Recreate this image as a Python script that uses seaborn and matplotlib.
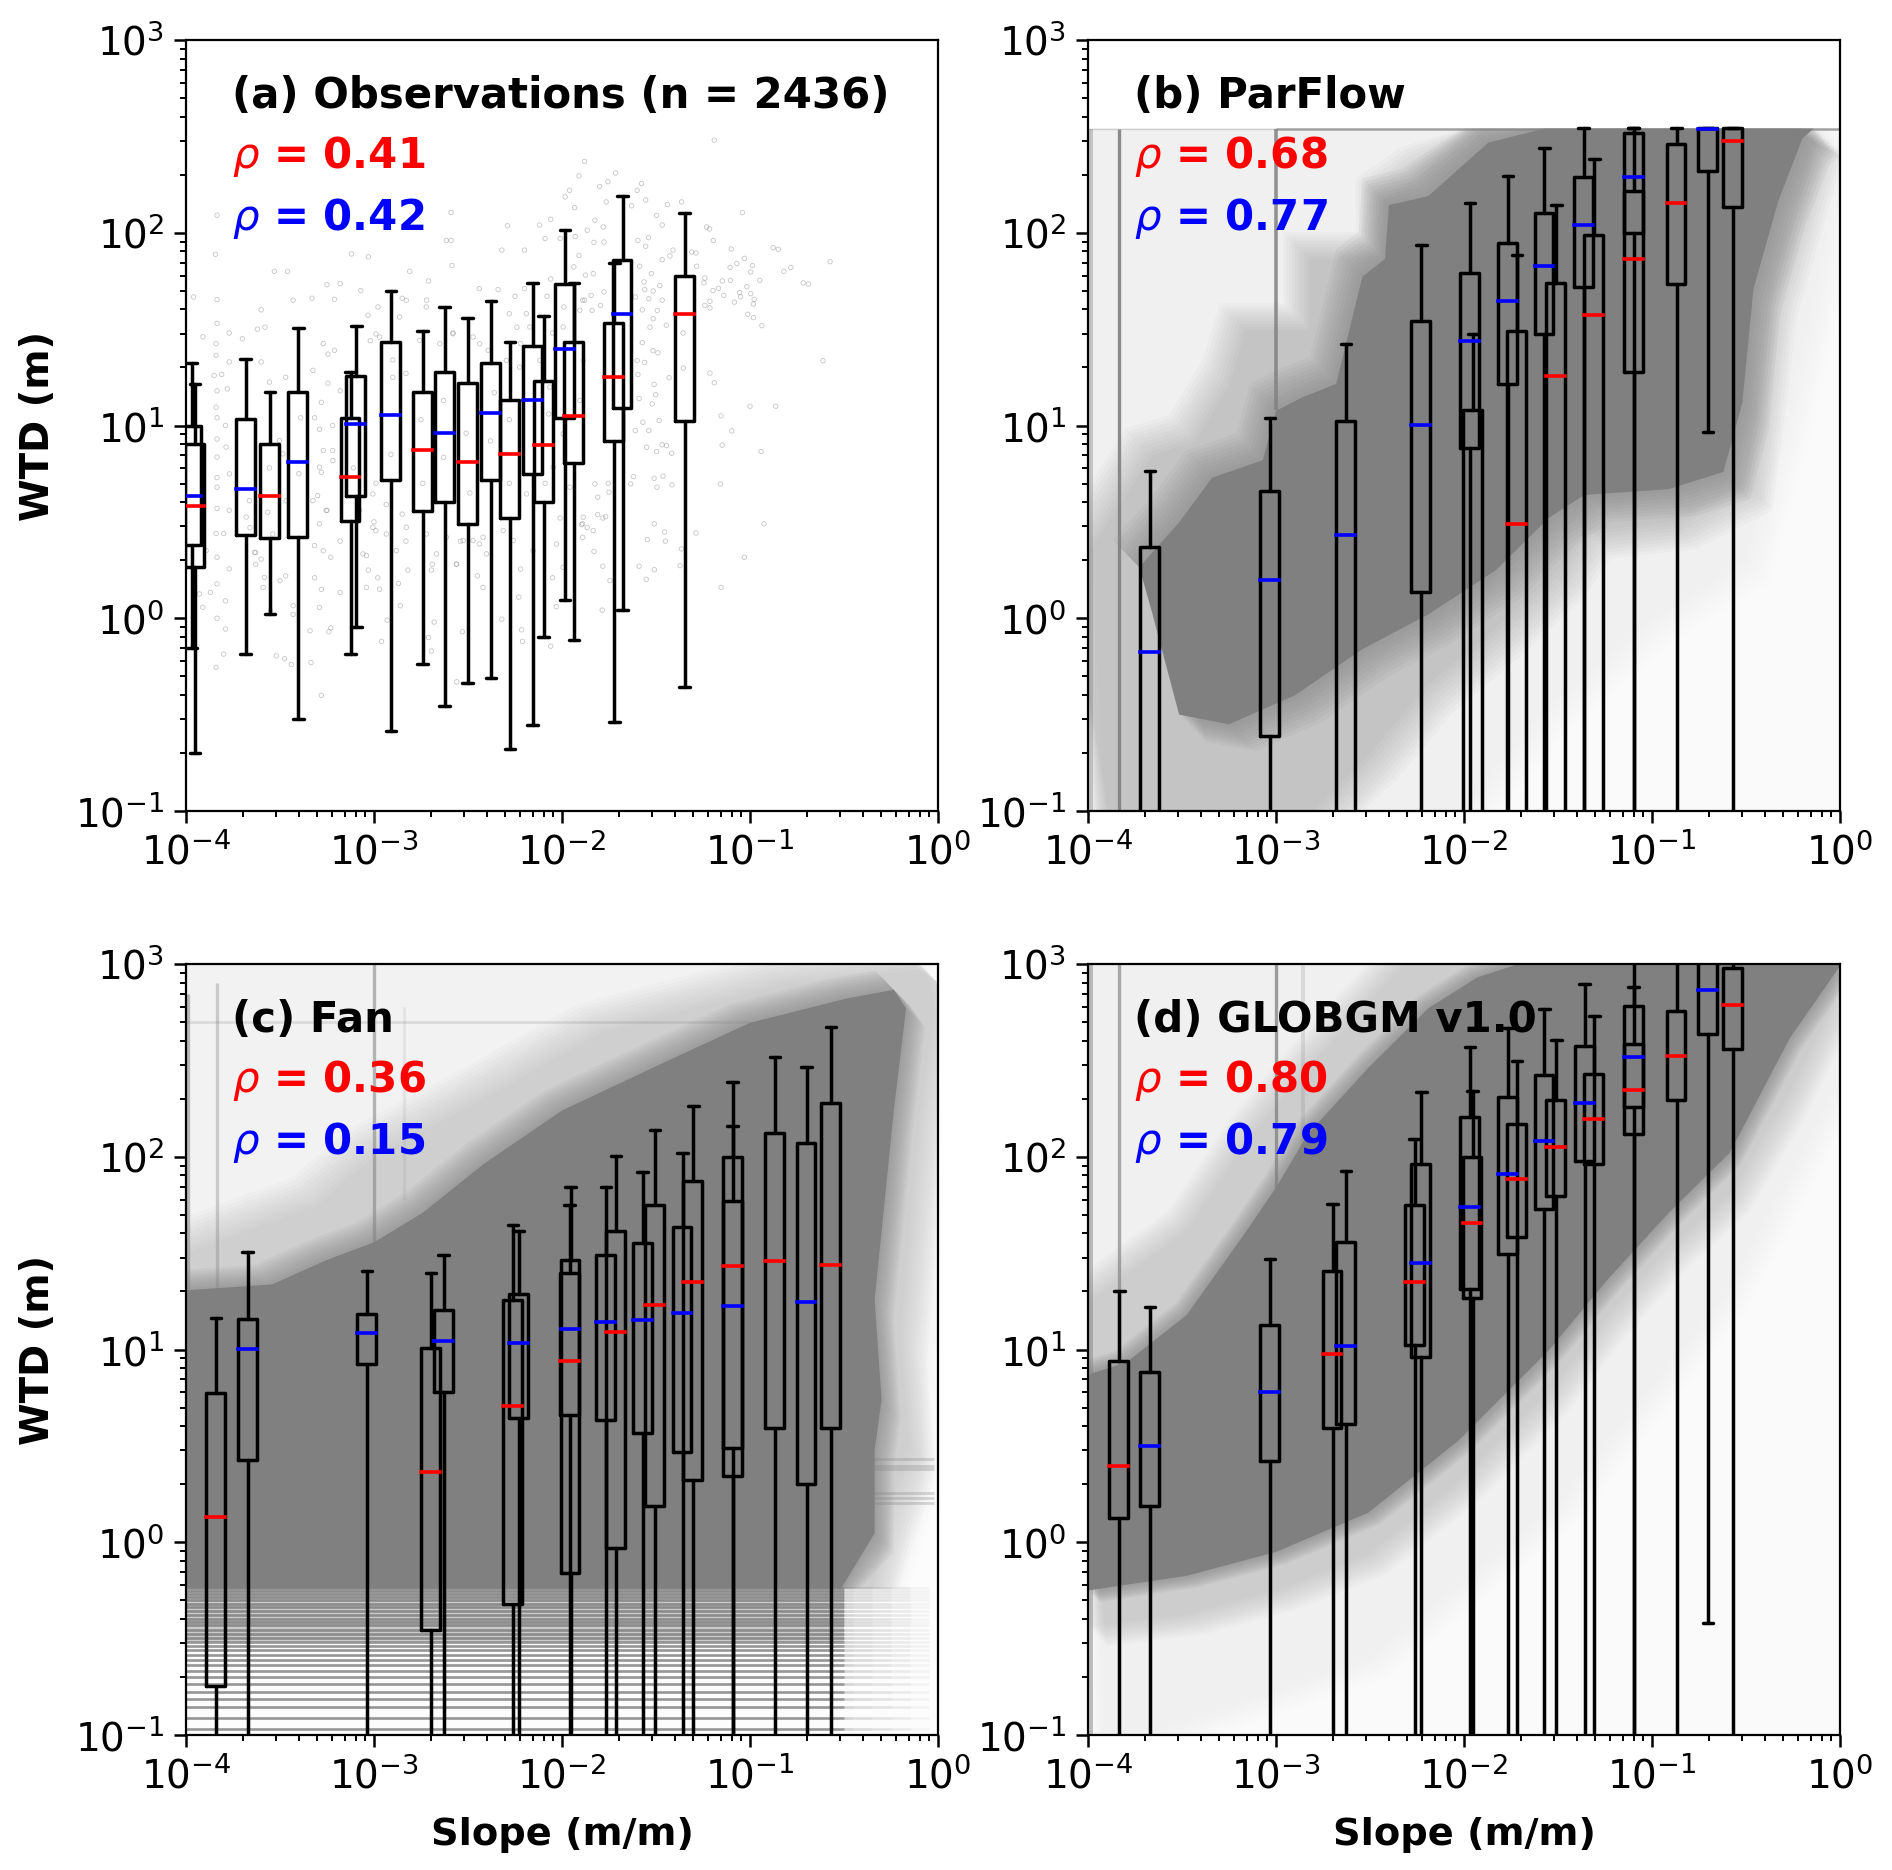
import numpy as np
import matplotlib
matplotlib.use("Agg")
import matplotlib.pyplot as plt
import seaborn as sns

# box rows: slope, whisker high, q3, median, q1, whisker low
off_low = 0.05
off_high = 2000

a_blue = [(1.08e-4, 21, 10, 4.3, 2.4, 0.7), (2.08e-4, 22, 10.8, 4.7, 2.7, 0.65),
          (3.96e-4, 32, 15, 6.5, 2.65, 0.3), (8.06e-4, 33, 18, 10.2, 4.3, 0.9),
          (1.236e-3, 50, 27, 11.3, 5.2, 0.26), (2.38e-3, 41, 19, 9.1, 4, 0.35),
          (4.2e-3, 44, 21, 11.6, 5.2, 0.49), (7.0e-3, 55, 26, 13.5, 5.6, 0.28),
          (1.04e-2, 103, 54, 25, 10.9, 1.25), (2.1e-2, 155, 72, 38, 12.3, 1.1)]
a_red = [(1.12e-4, 16.5, 8, 3.8, 1.85, 0.2), (2.8e-4, 15, 8, 4.3, 2.6, 1.05),
         (7.5e-4, 19, 11, 5.4, 3.2, 0.65), (1.82e-3, 31, 15, 7.5, 3.6, 0.58),
         (3.15e-3, 36, 16.7, 6.5, 3.1, 0.46), (5.3e-3, 27, 13.6, 7.1, 3.3, 0.21),
         (8.0e-3, 37, 17, 7.9, 4, 0.8), (1.16e-2, 55, 27, 11.2, 6.4, 0.77),
         (1.9e-2, 70, 34, 17.8, 8.3, 0.29), (4.5e-2, 127, 60, 38, 10.5, 0.44)]

b_blue = [(2.14e-4, 5.8, 2.35, 0.67, off_low, off_low), (9.3e-4, 11, 4.6, 1.57, 0.245, off_low),
          (2.36e-3, 26.5, 10.6, 2.7, off_low, off_low), (5.94e-3, 86, 35, 10.1, 1.37, off_low),
          (1.08e-2, 143, 62, 27.3, 7.6, off_low), (1.72e-2, 196, 88, 44, 16.5, off_low),
          (2.68e-2, 275, 127, 67, 30, off_low), (4.33e-2, 350, 195, 110, 52, off_low),
          (8.0e-2, 350, 330, 194, 100, off_low), (0.199, 350, 350, 345, 210, 9.3)]
b_red = [(1.12e-2, 30, 12, off_low, off_low, off_low), (1.92e-2, 77, 31, 3.1, off_low, off_low),
         (3.1e-2, 140, 55, 18, off_low, off_low), (4.94e-2, 240, 97, 37.5, off_low, off_low),
         (8.0e-2, 350, 165, 73, 19, off_low), (0.135, 350, 287, 143, 54, off_low),
         (0.269, 350, 350, 300, 136, off_low)]

c_blue = [(2.13e-4, 32, 14.4, 10.1, 2.66, off_low), (9.2e-4, 25.4, 15.2, 12.2, 8.4, off_low),
          (2.35e-3, 31, 16.1, 11.1, 6, off_low), (5.88e-3, 41, 19.3, 10.8, 4.4, off_low),
          (1.11e-2, 70, 29, 12.8, 0.69, off_low), (1.72e-2, 70, 31, 13.9, 4.3, off_low),
          (2.69e-2, 83, 35.5, 14.3, 3.7, off_low), (4.38e-2, 105, 43, 15.5, 2.93, off_low),
          (8.1e-2, 145, 59, 16.9, 3.1, off_low), (0.2, 292, 118, 17.6, 2.0, off_low)]
c_red = [(1.45e-4, 14.6, 5.96, 1.36, 0.18, off_low), (2.01e-3, 25, 10.2, 2.32, 0.35, off_low),
         (5.5e-3, 44, 18, 5.1, 0.48, off_low), (1.10e-2, 56, 25, 8.7, 4.55, off_low),
         (1.94e-2, 101, 41, 12.3, 0.93, off_low), (3.13e-2, 138, 56, 17, 1.54, off_low),
         (5.0e-2, 183, 74.5, 22.3, 2.1, off_low), (8.1e-2, 243, 100, 27, 2.2, off_low),
         (0.136, 329, 133, 28.7, 3.9, off_low), (0.27, 470, 190, 27.4, 3.9, off_low)]

d_blue = [(2.14e-4, 16.7, 7.6, 3.15, 1.55, off_low), (9.3e-4, 29.6, 13.4, 6, 2.65, off_low),
          (2.36e-3, 84, 36, 10.4, 4.1, off_low), (5.94e-3, 217, 92, 28, 9.1, off_low),
          (1.08e-2, 371, 160, 54.6, 20.7, off_low), (1.72e-2, 467, 205, 81.5, 31.4, off_low),
          (2.68e-2, 584, 265, 120, 53.5, off_low), (4.4e-2, 790, 374, 189, 95, off_low),
          (8.0e-2, off_high, 609, 331, 181, off_low), (0.199, off_high, 1100, 730, 435, 0.38)]
d_red = [(1.47e-4, 20, 8.7, 2.5, 1.33, off_low), (2.0e-3, 57, 25.5, 9.5, 3.9, off_low),
         (5.48e-3, 123, 56, 22.4, 10.6, off_low), (1.11e-2, 219, 100, 45.5, 18.4, off_low),
         (1.92e-2, 313, 148, 76.5, 38.5, off_low), (3.1e-2, 405, 197, 112, 62.5, off_low),
         (4.94e-2, 536, 268, 157, 92, off_low), (8.0e-2, 761, 385, 222, 131, off_low),
         (0.135, off_high, 571, 333, 196, off_low), (0.269, off_high, 950, 615, 363, off_low)]

obs_log_slope = [
    -3.835, -3.844, -3.53, -3.46, -3.6, -3.835, -3.96, -3.43, -3.33, -3.25, -3.18, -3.21, -3.07, -3.12, -3.03,
    -2.81, -2.71, -2.585, -2.615, -2.59, -2.59, -2.32, -2.29, -2.2, -2.12, -2.09, -2.06, -2.01, -1.93,
    -3.835, -3.77, -3.91, -3.84, -3.84, -3.77, -3.85, -3.81, -3.835, -3.78, -3.84, -3.835, -3.835, -3.79,
    -3.835, -3.835, -3.835, -3.835, -3.84, -3.77, -3.8, -3.835, -3.77, -3.835, -3.87, -3.79, -3.835, -3.79,
    -3.8, -3.84, -3.62, -3.58, -3.7, -3.6, -3.556, -3.47, -3.325, -3.27, -3.245, -3.21, -3.245, -3.18,
    -3.28, -3.22, -3.316, -3.29, -3.27, -3.22, -3.28, -3.3, -3.25, -3.29, -3.18, -3.316, -3.27, -3.23,
    -3.316, -3.28, -3.18, -3.29, -3.23, -3.24, -3.34, -3.335, -3.476, -3.52, -3.44, -3.28, -3.6, -3.63,
    -3.59, -3.5, -3.47, -3.43, -3.63, -3.43, -3.55, -3.04, -3.03, -2.97, -3.04, -2.93, -2.98, -2.87,
    -2.86, -2.96, -2.99, -3.0, -2.935, -2.99, -2.85, -2.83, -2.82, -2.69, -2.695, -2.68, -2.71, -2.695,
    -2.56, -2.54, -2.53, -2.56, -2.44, -2.45, -2.42, -2.32, -2.22, -2.23, -2.215, -2.21, -2.06, -2.03,
    -2.05, -2.03, -1.89, -1.89, -2.01, -3.02, -2.99, -2.85, -2.72, -2.65, -2.58, -2.44, -2.34, -2.25,
    -2.2, -2.06, -2.24, -2.28, -2.19, -2.08, -1.89, -2.9, -2.83, -2.22, -2.05, -2.9, -2.91, -2.75, -2.74,
    -2.63, -2.63, -2.51, -2.49, -2.38, -2.36, -2.28, -2.28, -2.09, -2.07, -1.99, -3.68, -3.66, -3.565,
    -3.556, -3.4, -3.39, -3.11,
    -1.19, -1.88, -1.91, -1.715, -1.756, -1.8, -1.96, -1.577, -1.6, -1.555, -1.765, -1.63, -1.44, -1.364,
    -1.04, -1.497, -1.467, -1.23, -1.215, -1.195, -1.54, -1.596, -1.555, -1.41, -1.426, -1.467, -1.31,
    -1.287, -1.1, -0.877, -0.85, -0.574, -1.03, -1.07, -1.106, -0.987, -0.996, -0.783, -0.82, -1.284,
    -1.24, -1.245, -1.147, -1.104, -0.948, -0.717, -0.689, -1.017, -1.197, -1.168, -1.055, -0.996, -1.14,
    -1.05, -0.978, -1.213, -1.24, -1.083, -0.982, -1.213, -1.012, -0.982, -0.937, -1.356, -0.612, -1.516,
    -1.49, -1.56, -1.355, -1.213, -1.19, -1.43, -1.0, -0.863, -1.154, -1.097, -1.148, -0.941, -1.417,
    -1.158, -1.415, -0.925, -1.287, -1.03, -1.154, -1.372, -1.365, -1.45, -1.454, -1.509, -1.546, -1.552,
    -1.509, -1.59, -1.783, -1.745, -1.786, -1.83, -1.834, -1.866, -1.896, -1.81, -1.783, -1.768, -1.81,
    -1.75, -1.825, -1.754, -1.635, -1.62, -1.51, -1.463, -1.495, -1.55, -1.497, -1.444, -1.468, -1.538,
    -1.483, -1.61, -1.57, -1.52, -1.59, -1.51, -1.502, -1.596, -1.6, -1.573, -1.532, -1.515, -1.573,
    -1.56, -1.515, -1.48, -1.61, -1.538, -1.467, -1.493, -1.445, -1.525, -1.564, -1.587, -1.83, -1.777,
    -1.866, -1.825, -1.781, -1.933, -1.983, -1.91, -1.937, -1.834, -1.875, -1.777, -1.845, -1.88, -1.795,
    -1.84,
    -2.97, -2.979, -3.032, -2.864, -2.828, -2.757, -2.722, -2.58, -2.473, -2.438, -2.393, -2.296, -2.225,
    -2.171, -2.118, -2.065, -1.994, -1.905, -1.887, -1.905, -1.994, -2.047, -1.958, -1.887, -1.994, -2.26,
    -2.189, -2.154, -2.313, -2.42, -2.402, -2.526, -2.562, -2.473, -2.615, -2.722, -2.668, -2.828, -2.881,
    -2.935, -3.006, -3.059, -3.077, -3.006, -3.254, -3.219, -3.29, -3.325, -3.467, -3.538, -3.485, -3.503,
    -3.583, -3.636, -3.663, -3.769, -3.787, -3.893, -3.929, -3.911]
obs_log_wtd = [
    2.091, 1.888, 1.8, 1.8, 1.6, 1.653, 1.667, 1.65, 1.66, 1.73, 1.736, 1.655, 1.7, 1.89, 1.875,
    1.8, 1.75, 1.83, 1.96, 1.96, 2.105, 1.91, 2.036, 1.91, 2.04, 1.97, 2.07, 1.97, 1.98,
    1.53, 1.48, 1.46, 1.425, 1.364, 1.33, 1.26, 1.265, 1.18, 1.19, 1.095, 1.04, 0.93, 1.0,
    0.836, 0.73, 0.68, 0.57, 0.44, 0.56, 0.44, 0.316, 0.256, 0.178, 0.134, 0.09, 0.0, -0.056,
    -0.186, -0.255, 1.5, 1.51, 1.45, 1.33, 1.225, 1.25, 1.286, 1.425, 1.37, 1.39, 1.22, 1.18,
    1.12, 1.0, 1.04, 0.98, 0.87, 0.87, 0.757, 0.636, 0.56, 0.49, 0.4, 0.377, 0.35, 0.316,
    0.21, 0.15, 0.134, 0.056, -0.05, -0.07, -0.065, -0.23, -0.21, -0.195, -0.24, -0.4, 0.307, 0.28,
    0.16, 0.195, 0.22, 0.065, 0.34, 0.02, 0.04, 0.325, 0.25, 0.15, 0.16, -0.01, 0.21, 0.18,
    0.065, -0.12, 0.7, 0.5, 0.59, 0.455, 0.54, 0.4, 0.25, 0.28, 0.25, -0.02, -0.1, -0.17,
    0.28, 0.4, -0.07, -0.33, 0.385, 0.22, 0.16, -0.005, 0.255, 0.11, -0.06, -0.12, -0.145, 0.385,
    0.21, 0.06, 0.49, 0.42, 0.52, 1.44, 1.475, 1.66, 1.65, 1.425, 1.48, 1.71, 1.705, 1.67,
    1.71, 1.76, 1.51, 1.58, 1.58, 1.67, 1.65, 1.34, 1.27, 1.425, 1.48, 1.25, 0.85, 1.03, 0.7,
    0.835, 1.13, 0.96, 0.65, 0.92, 1.17, 1.03, 0.7, 0.7, 1.06, 1.615, 0.525, 0.47, 0.55,
    0.78, 0.75, 1.04, 0.78,
    2.48, 2.37, 2.295, 2.31, 2.265, 2.24, 2.22, 2.255, 2.22, 2.17, 2.16, 2.14, 2.146, 2.16,
    2.105, 2.09, 2.04, 2.03, 2.02, 1.96, 1.975, 1.96, 1.93, 1.91, 1.88, 1.86, 1.9,
    1.895, 1.916, 1.923, 1.914, 1.85, 1.867, 1.84, 1.82, 1.83, 1.796, 1.82, 1.8, 1.826,
    1.765, 1.74, 1.75, 1.753, 1.753, 1.74, 1.734, 1.72, 1.7, 1.712, 1.69, 1.684, 1.675,
    1.668, 1.654, 1.644, 1.623, 1.64, 1.63, 1.61, 1.577, 1.56, 1.518, 1.48, 1.336, 1.388,
    1.377, 1.327, 1.298, 1.272, 1.222, 1.248, 1.1, 1.1, 1.05, 0.972, 0.898, 0.865, 0.856,
    0.697, 0.692, 0.49, 0.442, 0.316, 0.16, 0.273, 0.36, 0.4, 0.447, 0.49, 0.408, 0.202,
    0.252, 0.27, 0.27, 0.195, 0.042, 0.347, 0.455, 0.47, 0.486, 0.538, 0.52, 0.527, 0.628,
    0.654, 0.697, 0.7, 0.697, 0.735, 0.726, 0.737, 0.68, 0.887, 0.865, 0.896, 0.9, 0.974,
    1.026, 0.974, 1.017, 1.112, 1.14, 1.213, 1.16, 1.265, 1.337, 1.43, 1.51, 1.554, 1.6,
    1.705, 1.698, 1.726, 1.667, 1.658, 1.65, 1.597, 1.52, 1.788, 1.745, 1.826, 1.95, 1.952,
    2.013, 2.065, 2.03, 2.13, 2.186, 1.883, 1.823, 1.788, 1.78, 1.693, 1.675, 1.65, 1.623,
    1.597,
    1.459, 1.615, 1.572, 1.563, 1.65, 1.442, 1.615, 1.476, 1.459, 1.424, 1.39, 1.338, 1.303,
    1.511, 1.338, 1.199, 1.511, 1.598, 1.338, 1.13, 0.957, 0.784, 0.68, 0.524, 0.264, 0.403,
    0.645, 0.351, 0.455, 0.42, 0.334, 0.403, 0.281, 0.403, 0.42, 0.437, 0.334, 0.472, 0.351,
    0.437, 0.472, 0.334, 0.559, 0.645, 0.559, 0.818, 0.784, 0.61, 0.61, 0.437, 0.853, 0.922,
    0.212, 0.342, 0.61, 0.749, 0.888, 0.351, 0.126, 0.057]

# model clouds: outlines as (log10 slope, log10 WTD), upper edge then lower edge
b_core_top = [(-3.727, 0.265), (-3.515, 0.497), (-3.34, 0.729), (-3.07, 0.82), (-3.0, 1.076), (-2.86, 1.146),
              (-2.68, 1.216), (-2.54, 1.772), (-2.42, 1.865), (-2.4, 2.143), (-2.19, 2.19), (-1.87, 2.468),
              (-1.57, 2.54), (-0.14, 2.54)]
b_core_low = [(-3.727, 0.265), (-3.66, 0.033), (-3.515, -0.5), (-3.25, -0.55), (-2.9, -0.4), (-2.54, -0.16),
              (-2.19, 0.02), (-1.83, 0.25), (-1.55, 0.52), (-1.36, 0.64), (-0.91, 0.67), (-0.62, 0.76),
              (-0.52, 1.116), (-0.46, 1.71), (-0.33, 2.16), (-0.2, 2.49), (-0.14, 2.54)]
b_mid_top = [(-4, 0.334), (-3.66, 0.845), (-3.43, 0.914), (-3.25, 1.2), (-3.16, 1.494), (-2.82, 1.494),
             (-2.82, 1.865), (-2.435, 1.865), (-2.435, 2.143), (-2.19, 2.306), (-1.87, 2.514), (-1.6, 2.54),
             (-0.12, 2.54)]
b_mid_low = [(-4, -1.1), (-2.9, -1.1), (-2.5, -0.7), (-2.2, -0.35), (-1.83, -0.05), (-1.5, 0.25), (-1.36, 0.45),
             (-0.9, 0.5), (-0.5, 0.7), (-0.42, 1.3), (-0.37, 1.7), (-0.28, 2.0), (-0.12, 2.54)]
b_light_top = [(-4, 2.54), (0, 2.54)]
b_light_low = [(-4, -1.1), (-2.1, -1.1), (-1.6, -0.5), (-1, 0.0), (-0.5, 0.3), (-0.3, 1), (-0.15, 1.6), (0, 2.4)]

c_core_top = [(-4, 1.307), (-3.54, 1.338), (-3.255, 1.463), (-3, 1.556), (-2.74, 1.71), (-2.42, 1.96), (-2, 2.24),
              (-1.455, 2.49), (-1, 2.695), (-0.49, 2.82), (-0.235, 2.866)]
c_core_low = [(-4, -0.24), (-0.515, -0.24), (-0.337, 0.047), (-0.337, 0.479), (-0.3, 0.738), (-0.337, 1.257),
              (-0.235, 2.24), (-0.17, 2.77), (-0.235, 2.866)]
c_mid_top = [(-4, 1.5), (-3.3, 1.75), (-3, 2.0), (-2.42, 2.3), (-1.78, 2.65), (-0.81, 2.9), (-0.1, 2.97), (0, 2.9)]
c_mid_low = [(-4, -0.24), (-0.35, -0.24), (-0.25, 0.2), (-0.15, 0.5), (-0.2, 1.08), (-0.1, 2.2), (0, 2.9)]
c_light_top = [(-4, 3), (0, 3)]
c_light_low = [(-4, -0.24), (-0.25, -0.24), (-0.1, 0.3), (0, 2.4)]
c_stripe_fill_top = [(-4, -0.24), (-0.5, -0.24)]
c_stripe_fill_low = [(-4, -0.52), (-0.5, -0.52)]
c_low_levels = [0.1, 0.107, 0.122, 0.139, 0.154, 0.168, 0.184, 0.2, 0.216, 0.23, 0.245, 0.26, 0.276, 0.29, 0.305,
                0.32, 0.335, 0.35, 0.37, 0.385, 0.4, 0.42, 0.44, 0.46, 0.48, 0.5, 0.52, 0.54, 0.56, 0.58]
c_stripe_ends = [-0.55, -0.45, -0.35, -0.25, -0.15, -0.05]
c_band_levels = [2.7, 2.5, 2.4, 1.8, 1.7, 1.6]

d_core_top = [(-4, 0.87), (-3.795, 0.933), (-3.474, 1.18), (-3.153, 1.62), (-3, 1.84), (-2.83, 2.118), (-2.51, 2.46),
              (-2.19, 2.77), (-1.93, 2.93), (-1.71, 3), (0, 3)]
d_core_low = [(-4, -0.25), (-3.795, -0.22), (-3.474, -0.174), (-3, -0.05), (-2.51, 0.153), (-2.03, 0.527),
              (-1.55, 0.995), (-1.23, 1.37), (-0.91, 1.71), (-0.587, 2.02), (-0.266, 2.617), (0, 2.99)]
d_mid_top = [(-4, 1.245), (-3.474, 1.62), (-3.153, 2.087), (-2.83, 2.46), (-2.51, 2.8), (-2.32, 3), (0, 3)]
d_mid_low = [(-4, -0.44), (-3.474, -0.376), (-3, -0.25), (-2.51, -0.065), (-2.03, 0.31), (-1.55, 0.777),
             (-1.23, 1.18), (-0.91, 1.525), (-0.587, 1.806), (-0.266, 2.336), (0, 2.866)]
d_light_top = [(-4, 3), (0, 3)]
d_light_low = [(-4, -1.1), (-2.5, -0.6), (-1.5, 0.2), (-0.6, 1.3), (0, 2.4)]

panel_titles = ["(a) Observations (n = 2436)", "(b) ParFlow", "(c) Fan", "(d) GLOBGM v1.0"]
rho_red = ["0.41", "0.68", "0.36", "0.80"]
rho_blue = ["0.42", "0.77", "0.15", "0.79"]

sns.set_style("ticks", {"axes.edgecolor": "black", "xtick.color": "black", "ytick.color": "black",
                        "text.color": "black", "axes.labelcolor": "black", "font.family": ["DejaVu Sans"]})
cloud_gray = "#808080"


def draw_boxes(ax, rows, color):
    stats = [dict(med=r[3], q1=r[4], q3=r[2], whislo=r[5], whishi=r[1], fliers=[]) for r in rows]
    pos = np.array([r[0] for r in rows])
    line = dict(color="black", linewidth=1.25)
    ax.bxp(stats, positions=pos, widths=0.23 * pos, capwidths=0.13 * pos, showfliers=False, manage_ticks=False,
           boxprops=line, whiskerprops=line, capprops=line,
           medianprops=dict(color=color, linewidth=1.3, solid_capstyle="projecting"), zorder=3)


def draw_layer(ax, top, low, alpha, spread=0.0, ymin=-1.2, ymax=3.1):
    # feathered edge: the outline is grown step by step with a small alpha each time
    top = np.array(top, dtype=float)
    low = np.array(low, dtype=float)
    steps = 10 if spread > 0 else 1
    step_alpha = 1 - (1 - alpha) ** (1.0 / steps) if alpha < 1 else 1
    for k in range(steps):
        off = spread * k / max(steps - 1, 1)
        t = top + [-off, off]
        l = low + [off, -off]
        pts = np.vstack([t, l[::-1]])
        ys = np.clip(pts[:, 1], ymin, ymax)
        ax.fill(10.0 ** pts[:, 0], 10.0 ** ys, color=cloud_gray, alpha=step_alpha, linewidth=0, zorder=1)


fig = plt.figure(figsize=(9.46, 9.35), dpi=200)
W, H = 1892, 1870
boxes = [(186, 40), (1088, 40), (186, 964), (1088, 964)]
axes = [fig.add_axes([x / W, 1 - (y + 771) / H, 752 / W, 771 / H]) for x, y in boxes]

# panel a
sns.scatterplot(x=10.0 ** np.array(obs_log_slope), y=10.0 ** np.array(obs_log_wtd), ax=axes[0], marker="o", s=2.6,
                facecolor="none", edgecolor="gray", linewidth=0.3, alpha=0.45, legend=False, zorder=1)

# panel b
ax = axes[1]
draw_layer(ax, [(-4, 2.54), (0, 2.54)], [(-4, -1.1), (0, -1.1)], 0.04)
draw_layer(ax, b_light_top, b_light_low, 0.09, 0.12, ymax=2.54)
draw_layer(ax, b_mid_top, b_mid_low, 0.35, 0.14, ymax=2.54)
draw_layer(ax, b_core_top, b_core_low, 0.6, 0.14, ymax=2.54)
draw_layer(ax, b_core_top, b_core_low, 1, ymax=2.54)
ax.vlines(1.04e-4, 0.1, 345, color=cloud_gray, alpha=0.4, linewidth=1.4, zorder=1)
ax.vlines(1.47e-4, 0.1, 345, color=cloud_gray, alpha=0.9, linewidth=1.2, zorder=1)
ax.vlines(1.0e-3, 12, 345, color=cloud_gray, alpha=0.85, linewidth=1.3, zorder=1)
ax.hlines(345, 1e-4, 1e-3, color=cloud_gray, alpha=0.3, linewidth=0.5, zorder=1)
ax.hlines(345, 1e-3, 1, color=cloud_gray, alpha=0.7, linewidth=0.9, zorder=1)

# panel c
ax = axes[2]
draw_layer(ax, [(-4, 3), (0, 3)], [(-4, -1.1), (0, -1.1)], 0.02)
draw_layer(ax, c_light_top, c_light_low, 0.08, 0.1, ymin=-0.24)
draw_layer(ax, c_mid_top, c_mid_low, 0.28, 0.14, ymin=-0.24)
draw_layer(ax, c_core_top, c_core_low, 0.6, 0.1, ymin=-0.24)
draw_layer(ax, c_core_top, c_core_low, 1)
draw_layer(ax, c_stripe_fill_top, c_stripe_fill_low, 0.4)
ax.hlines(c_low_levels, 1e-4, 10 ** -0.5, color=cloud_gray, alpha=0.7, linewidth=0.9, zorder=1)
for end in c_stripe_ends:
    ax.hlines(c_low_levels, 1e-4, 10 ** end, color=cloud_gray, alpha=0.07, linewidth=0.9, zorder=1)
ax.hlines(c_band_levels, 10 ** -0.45, 10 ** -0.02, color=cloud_gray, alpha=0.3, linewidth=1.0, zorder=1)
ax.hlines(500, 1e-4, 0.1, color=cloud_gray, alpha=0.2, linewidth=1.0, zorder=1)
ax.vlines(1.03e-4, 20, 700, color=cloud_gray, alpha=0.5, linewidth=1.2, zorder=1)
ax.vlines(1.47e-4, 20, 800, color=cloud_gray, alpha=0.35, linewidth=1.2, zorder=1)
ax.vlines(1.0e-3, 35, 1000, color=cloud_gray, alpha=0.55, linewidth=1.2, zorder=1)
ax.vlines(1.45e-3, 60, 600, color=cloud_gray, alpha=0.12, linewidth=1.2, zorder=1)

# panel d
ax = axes[3]
draw_layer(ax, [(-4, 3), (0, 3)], [(-4, -1.1), (0, -1.1)], 0.04)
draw_layer(ax, d_light_top, d_light_low, 0.06, 0.1)
draw_layer(ax, d_mid_top, d_mid_low, 0.28, 0.1)
draw_layer(ax, d_core_top, d_core_low, 0.6, 0.06)
draw_layer(ax, d_core_top, d_core_low, 1)
ax.vlines(1.04e-4, 0.1, 1000, color=cloud_gray, alpha=0.5, linewidth=1.4, zorder=1)
ax.vlines(1.47e-4, 8, 1000, color=cloud_gray, alpha=0.65, linewidth=1.2, zorder=1)
ax.vlines(1.0e-3, 60, 1000, color=cloud_gray, alpha=0.75, linewidth=1.2, zorder=1)
ax.vlines(1.39e-3, 60, 1000, color=cloud_gray, alpha=0.2, linewidth=1.4, zorder=1)

all_boxes = [(a_blue, a_red), (b_blue, b_red), (c_blue, c_red), (d_blue, d_red)]
for i, ax in enumerate(axes):
    draw_boxes(ax, all_boxes[i][0], "blue")
    draw_boxes(ax, all_boxes[i][1], "red")
    ax.set_xscale("log")
    ax.set_yscale("log")
    ax.set_xlim(1e-4, 1)
    ax.set_ylim(1e-1, 1e3)
    ax.tick_params(axis="both", which="major", labelsize=14, length=4.3, width=0.9)
    ax.tick_params(axis="both", which="minor", length=2.2, width=0.7)
    ax.set_xticks([1e-4, 1e-3, 1e-2, 1e-1, 1])
    ax.set_yticks([1e-1, 1, 10, 100, 1000])
    ax.text(0.061, 0.928, panel_titles[i], transform=ax.transAxes, fontsize=15.1, fontweight="bold", va="center", zorder=5)
    ax.text(0.061, 0.849, r"$\rho$ = " + rho_red[i], transform=ax.transAxes, fontsize=15.1, fontweight="bold",
            color="red", va="center", zorder=5)
    ax.text(0.061, 0.769, r"$\rho$ = " + rho_blue[i], transform=ax.transAxes, fontsize=15.1, fontweight="bold",
            color="blue", va="center", zorder=5)
    if i in (0, 2):
        ax.set_ylabel("WTD (m)", fontsize=13.9, fontweight="bold", labelpad=6.5)
    if i in (2, 3):
        ax.set_xlabel("Slope (m/m)", fontsize=13.8, fontweight="bold", labelpad=7.5)

fig.savefig("out.png", dpi=200)
